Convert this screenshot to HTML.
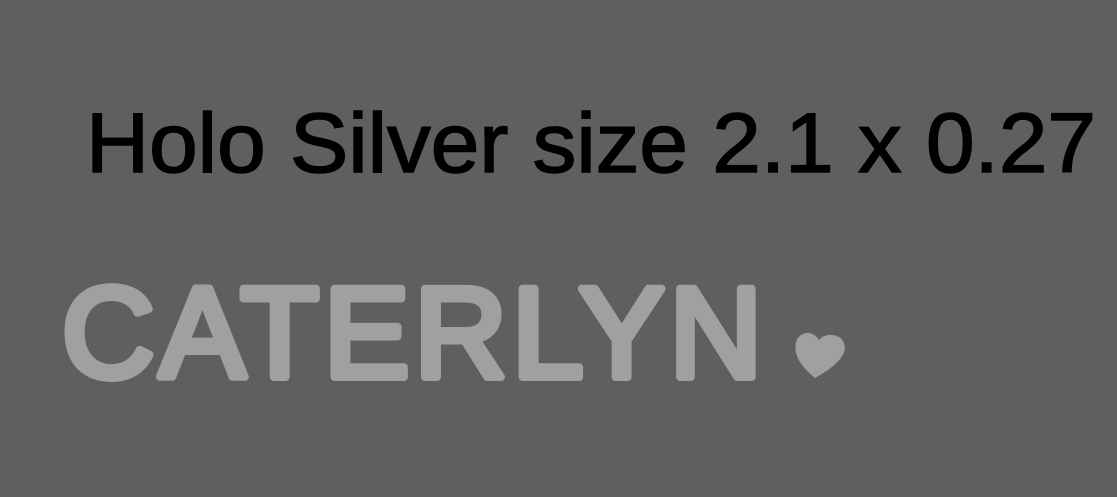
<!DOCTYPE html>
<html><head><meta charset="utf-8"><style>
html,body{margin:0;padding:0;background:#5f5f5f;}
svg{display:block;}
</style></head><body>
<svg width="1117" height="497" viewBox="0 0 1117 497" xmlns="http://www.w3.org/2000/svg">
<rect width="1117" height="497" fill="#5f5f5f"/>
<text x="86" y="172" font-family="Liberation Sans, sans-serif" font-size="84" fill="#000" stroke="#000" stroke-width="1.5" textLength="1010" lengthAdjust="spacingAndGlyphs">Holo Silver size 2.1 x 0.27</text>
<text x="62" y="377" font-family="Liberation Sans, sans-serif" font-size="128" fill="#a0a0a0" stroke="#a0a0a0" stroke-width="8" stroke-linejoin="round" stroke-linecap="round" textLength="700" lengthAdjust="spacing">CATERLYN</text>
<path d="M815 378 C803 368 793 357 796 342 C799 332 812 329 819 340 C824 333 838 333 843 341 C849 352 840 364 815 378 Z" fill="#a0a0a0"/>
</svg>
</body></html>
